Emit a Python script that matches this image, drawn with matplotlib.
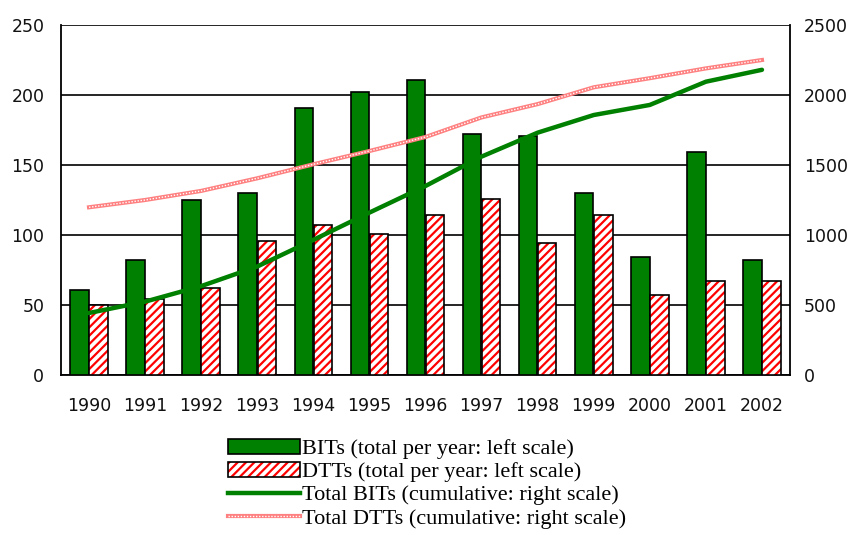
import matplotlib
matplotlib.use("Agg")
import matplotlib.pyplot as plt
import numpy as np
from matplotlib.patches import Patch
from matplotlib.lines import Line2D

years = ["1990", "1991", "1992", "1993", "1994", "1995", "1996",
         "1997", "1998", "1999", "2000", "2001", "2002"]
bits_per_year = [61, 82, 125, 130, 191, 202, 211, 172, 171, 130, 84, 159, 82]
dtts_per_year = [50, 54, 62, 96, 107, 101, 114, 126, 94, 114, 57, 67, 67]
bits_cumulative = [443, 524, 635, 775, 965, 1160, 1350, 1560, 1731, 1857, 1929, 2095, 2180]
dtts_cumulative = [1198, 1250, 1315, 1405, 1505, 1600, 1700, 1840, 1935, 2055, 2120, 2190, 2250]

left_ticks = [0, 50, 100, 150, 200, 250]
right_ticks = [0, 500, 1000, 1500, 2000, 2500]

plt.rcParams['hatch.linewidth'] = 1.6

fig = plt.figure(figsize=(8.51, 5.35), dpi=100)
ax = fig.add_axes([61/851, 1-375/535, (790-61)/851, 350/535])
ax2 = ax.twinx()

x = np.arange(len(years))
w = 0.33
green = '#008000'

ax.bar(x - 0.17, bits_per_year, w, color=green, edgecolor='black', linewidth=1.2, zorder=3)
ax.bar(x + 0.17, dtts_per_year, w, color='white', edgecolor='#ff0000', hatch='////', linewidth=0, zorder=3)
ax.bar(x + 0.17, dtts_per_year, w, color='none', edgecolor='black', linewidth=1.2, zorder=4)

ax.set_xlim(-0.5, len(years) - 0.5)
ax.set_ylim(0, 250)
ax.set_yticks(left_ticks)
ax.set_xticks(x)
ax.set_xticklabels(years)
ax.yaxis.grid(True, color='black', linewidth=1.2, zorder=0)
ax.set_axisbelow(True)
ax.tick_params(axis='both', length=0, labelsize=12.5, colors='#111111')
ax.tick_params(axis='y', pad=12)
ax.tick_params(axis='x', pad=16)
for s in ['left', 'bottom']:
    ax.spines[s].set_linewidth(1.3)
ax.spines['top'].set_visible(False)
ax.spines['right'].set_visible(False)

ax2.set_ylim(0, 2500)
ax2.set_yticks(right_ticks)
ax2.tick_params(axis='y', length=0, labelsize=12.5, pad=10, colors='#111111')
ax2.spines['right'].set_linewidth(1.3)
ax2.spines['top'].set_visible(False)
ax2.spines['left'].set_visible(False)
ax2.spines['bottom'].set_visible(False)

ax2.plot(x, bits_cumulative, color=green, linewidth=3.2, solid_capstyle='round', zorder=5)
ax2.plot(x, dtts_cumulative, color='#ff8080', linewidth=3.0, zorder=5)
ax2.plot(x, dtts_cumulative, color='white', linewidth=1.0, linestyle=(0, (1, 1.2)), zorder=6)

h1 = Patch(facecolor=green, edgecolor='black', linewidth=1.2)
h2a = Patch(facecolor='white', edgecolor='#ff0000', hatch='////', linewidth=0)
h2b = Patch(facecolor='none', edgecolor='black', linewidth=1.2)
h3 = Line2D([], [], color=green, linewidth=3.2)
h4a = Line2D([], [], color='#ff8080', linewidth=3.0)
h4b = Line2D([], [], color='white', linewidth=1.0, linestyle=(0, (1, 1.2)))

leg = fig.legend([h1, (h2a, h2b), h3, (h4a, h4b)],
                 ["BITs (total per year: left scale)",
                  "DTTs (total per year: left scale)",
                  "Total BITs (cumulative: right scale)",
                  "Total DTTs (cumulative: right scale)"],
                 loc='upper left', bbox_to_anchor=(228/851, 1-439/535),
                 frameon=False, prop={'family': 'Liberation Serif', 'size': 16},
                 handlelength=3.25, handleheight=0.63, handletextpad=0.1,
                 labelspacing=0.14, borderpad=0, borderaxespad=0)

fig.savefig("out.png", dpi=100)
